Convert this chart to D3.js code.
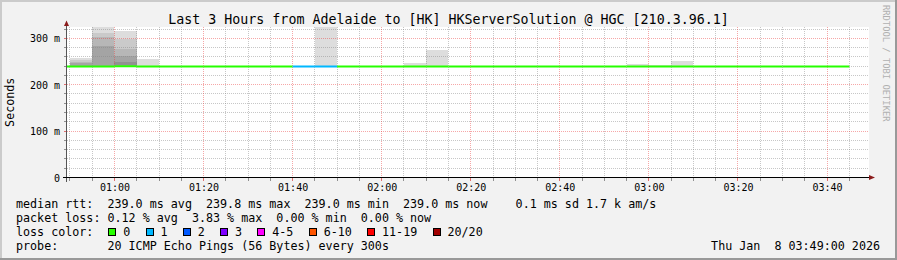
<!DOCTYPE html>
<html>
<head>
<meta charset="utf-8">
<script src="https://cdn.jsdelivr.net/npm/d3@7"></script>
<style>
  body { margin: 0; background: #fff; }
  text { font-family: "DejaVu Sans Mono", monospace; white-space: pre; }
</style>
</head>
<body>
<div id="chart"></div>
<script>
// smokeping "Last 3 Hours" graph, 5 minute steps

var width = 897, height = 260;

var binStarts = ["00:45","00:50","00:55","01:00","01:05","01:10","01:15","01:20","01:25","01:30","01:35","01:40",
                 "01:45","01:50","01:55","02:00","02:05","02:10","02:15","02:20","02:25","02:30","02:35","02:40",
                 "02:45","02:50","02:55","03:00","03:05","03:10","03:15","03:20","03:25","03:30","03:35","03:40"];

var medianRtt = [239.0,239.0,239.0,239.8,239.0,239.0,239.0,239.0,239.0,239.0,239.0,239.0,
                 239.0,239.0,239.0,239.0,239.0,239.0,239.0,239.0,239.0,239.0,239.0,239.0,
                 239.0,239.0,239.0,239.0,239.0,239.0,239.0,239.0,239.0,239.0,239.0,239.0];

var lossCount = [0,0,0,0,0,0,0,0,0,0,0,1,
                 1,0,0,0,0,0,0,0,0,0,0,0,
                 0,0,0,0,0,0,0,0,0,0,0,0];

// bins with visible smoke, 20 sorted pings each (ms)
var smokeBins = ["00:50","00:55","01:00","01:05","01:45","02:05","02:10","02:55","03:00","03:05"];
var smokePings = [
  [239,239,239,239,239,239,239,239,239,239,239,239,239,239,239,239,246,250,253,257],
  [239,239,239,239,239,239,239,239,239,239,239,239,239,239,239,239,283,302,311,325],
  [239,239,239,240,242.5,245,245,245,245,245,245,245,245,245,245,249,262,276,298,316],
  [239,239,239,239,239,239,239,239,239,239,239,239,239,239,239,239,239,239,239,255],
  [239,239,239,239,239,239,239,239,239,239,239,239,239,239,239,239,239,239,239,330],
  [239,239,239,239,239,239,239,239,239,239,239,239,239,239,239,239,239,239,239,247],
  [239,239,239,239,239,239,239,239,239,239,239,239,239,239,239,239,239,239,239,275],
  [239,239,239,239,239,239,239,239,239,239,239,239,239,239,239,239,239,239,239,245],
  [239,239,239,239,239,239,239,239,239,239,239,239,239,239,239,239,239,239,239,242],
  [239,239,239,239,239,239,239,239,239,239,239,239,239,239,239,239,239,239,239,251]
];

var yTickValues = [0, 100, 200, 300];
var lossLabels = ["0","1","2","3","4-5","6-10","11-19","20/20"];
var lossColors = ["#26ff00","#00b8ff","#0059ff","#7e00ff","#ff00ff","#ff5500","#ff0000","#a10000"];

var title = "Last 3 Hours from Adelaide to [HK] HKServerSolution @ HGC [210.3.96.1]";
var legendLines = [
  "median rtt:  239.0 ms avg  239.8 ms max  239.0 ms min  239.0 ms now    0.1 ms sd 1.7 k am/s",
  "packet loss: 0.12 % avg  3.83 % max  0.00 % min  0.00 % now",
  "loss color:",
  "probe:       20 ICMP Echo Pings (56 Bytes) every 300s"
];
var stamp = "Thu Jan  8 03:49:00 2026";

var parseTime = d3.timeParse("%H:%M");
var t0 = parseTime("00:49"), t1 = parseTime("03:49");
var step = 5; // minutes

var plotLeft = 66.5, plotRight = 869, plotTop = 27, plotBottom = 177.5;

var x = d3.scaleTime().domain([t0, t1]).range([65.5, 867.1]);
var y = d3.scaleLinear().domain([0, 300]).range([177.5, 38.3]);

var svg = d3.select('#chart').append('svg')
  .attr('width', width)
  .attr('height', height);

// background + 3d frame
svg.append('rect').attr('width', width).attr('height', height).attr('fill', '#f2f2f2');
svg.append('rect').attr('x', 0).attr('y', 0).attr('width', width).attr('height', 2).attr('fill', '#cbcbcb');
svg.append('rect').attr('x', 0).attr('y', 0).attr('width', 2).attr('height', height).attr('fill', '#cbcbcb');
svg.append('rect').attr('x', 0).attr('y', height-2).attr('width', width).attr('height', 2).attr('fill', '#999999');
svg.append('rect').attr('x', width-2).attr('y', 0).attr('width', 2).attr('height', height).attr('fill', '#999999');

// canvas
svg.append('rect')
  .attr('x', plotLeft).attr('y', plotTop)
  .attr('width', plotRight-plotLeft).attr('height', plotBottom-plotTop)
  .attr('fill', '#ffffff');

svg.append('clipPath').attr('id', 'plotclip')
  .append('rect')
  .attr('x', plotLeft).attr('y', plotTop)
  .attr('width', plotRight-plotLeft).attr('height', plotBottom-plotTop);

var plot = svg.append('g').attr('clip-path', 'url(#plotclip)');

// smoke: outer pairs light, inner pairs darker
var smoke = plot.append('g').attr('shape-rendering', 'crispEdges');
smokeBins.forEach(function(b, i) {
  var p = smokePings[i];
  var start = parseTime(b);
  var end = d3.timeMinute.offset(start, step);
  var half = p.length/2;
  for (var ibot = 1; ibot <= half; ibot++) {
    var lo = p[ibot-1], hi = p[p.length-ibot];
    if (hi <= lo) continue;
    var c = Math.floor(190/half*(half-ibot)) + 50;
    smoke.append('rect')
      .attr('x', x(start)).attr('width', x(end)-x(start))
      .attr('y', y(hi)).attr('height', y(lo)-y(hi))
      .attr('fill', d3.rgb(c, c, c));
  }
});

// grid
var grid = plot.append('g').attr('shape-rendering', 'crispEdges');
var minorT = d3.timeMinute.every(5).range(t0, t1);
var majorT = d3.timeMinute.every(20).range(t0, t1);
var minorY = d3.range(20, 340, 20);
var majorY = [100, 200, 300];

grid.selectAll('.vminor').data(minorT.filter(function(t){ return t.getMinutes() % 20 != 0; }))
  .enter().append('line')
  .attr('x1', function(d){ return Math.floor(x(d))+0.5; }).attr('x2', function(d){ return Math.floor(x(d))+0.5; })
  .attr('y1', plotTop).attr('y2', plotBottom)
  .attr('stroke', 'rgba(130,130,130,0.45)').attr('stroke-dasharray', '1,1');

grid.selectAll('.hminor').data(minorY.filter(function(v){ return v % 100 != 0; }))
  .enter().append('line')
  .attr('x1', plotLeft).attr('x2', plotRight)
  .attr('y1', function(d){ return Math.floor(y(d))+0.5; }).attr('y2', function(d){ return Math.floor(y(d))+0.5; })
  .attr('stroke', 'rgba(130,130,130,0.45)').attr('stroke-dasharray', '1,1');

grid.selectAll('.vmajor').data(majorT)
  .enter().append('line')
  .attr('x1', function(d){ return Math.floor(x(d))+0.5; }).attr('x2', function(d){ return Math.floor(x(d))+0.5; })
  .attr('y1', plotTop).attr('y2', plotBottom)
  .attr('stroke', 'rgba(235,60,60,0.45)').attr('stroke-dasharray', '1,1');

grid.selectAll('.hmajor').data(majorY)
  .enter().append('line')
  .attr('x1', plotLeft).attr('x2', plotRight)
  .attr('y1', function(d){ return Math.floor(y(d))+0.5; }).attr('y2', function(d){ return Math.floor(y(d))+0.5; })
  .attr('stroke', 'rgba(235,60,60,0.45)').attr('stroke-dasharray', '1,1');

// median rtt, coloured by loss
function lossIndex(n) {
  if (n <= 3) return n;
  if (n <= 5) return 4;
  if (n <= 10) return 5;
  if (n <= 19) return 6;
  return 7;
}
plot.append('g').selectAll('line').data(binStarts)
  .enter().append('line')
  .attr('x1', function(d){ return x(parseTime(d)); })
  .attr('x2', function(d){ return x(d3.timeMinute.offset(parseTime(d), step)); })
  .attr('y1', function(d, i){ return y(medianRtt[i]); })
  .attr('y2', function(d, i){ return y(medianRtt[i]); })
  .attr('stroke', function(d, i){ return lossColors[lossIndex(lossCount[i])]; })
  .attr('stroke-width', 2);

// axes
var xAxis = svg.append('g')
  .attr('transform', 'translate(0,' + plotBottom + ')')
  .call(d3.axisBottom(x).tickValues(majorT).tickFormat(d3.timeFormat('%H:%M')).tickSize(0));
xAxis.select('.domain').remove();
xAxis.selectAll('text').attr('y', 13.5).attr('dy', 0)
  .attr('font-size', '10px').attr('font-family', '"DejaVu Sans Mono"').attr('fill', '#000');

var yAxis = svg.append('g')
  .attr('transform', 'translate(' + plotLeft + ',0)')
  .call(d3.axisLeft(y).tickValues(yTickValues).tickFormat(function(d){ return d ? d + ' m' : '0'; }).tickSize(0));
yAxis.select('.domain').remove();
yAxis.selectAll('text').attr('x', -6.5).attr('dy', '0.36em')
  .attr('font-size', '10px').attr('font-family', '"DejaVu Sans Mono"').attr('fill', '#000');

var ticks = svg.append('g').attr('shape-rendering', 'crispEdges');
ticks.selectAll('.ty').data(minorY)
  .enter().append('line')
  .attr('x1', 63.5).attr('x2', plotLeft)
  .attr('y1', function(d){ return Math.floor(y(d))+0.5; }).attr('y2', function(d){ return Math.floor(y(d))+0.5; })
  .attr('stroke', function(d){ return d % 100 == 0 ? '#e07070' : '#909090'; });
ticks.selectAll('.tx').data(minorT)
  .enter().append('line')
  .attr('x1', function(d){ return Math.floor(x(d))+0.5; }).attr('x2', function(d){ return Math.floor(x(d))+0.5; })
  .attr('y1', plotBottom).attr('y2', plotBottom+3)
  .attr('stroke', function(d){ return d.getMinutes() % 20 == 0 ? '#e07070' : '#909090'; });

svg.append('line').attr('x1', plotLeft).attr('x2', plotLeft).attr('y1', 182).attr('y2', 25)
  .attr('stroke', '#555').attr('shape-rendering', 'crispEdges');
svg.append('line').attr('x1', 63).attr('x2', plotRight).attr('y1', plotBottom).attr('y2', plotBottom)
  .attr('stroke', '#000').attr('shape-rendering', 'crispEdges');
svg.append('path').attr('d', 'M64,26L69,26L66.5,20.5Z').attr('fill', '#8b1c1c');
svg.append('path').attr('d', 'M869,175L869,180L875,177.5Z').attr('fill', '#8b1c1c');

// texts
svg.append('text')
  .attr('x', 448.5).attr('y', 24)
  .attr('text-anchor', 'middle')
  .attr('font-size', '13.3px')
  .text(title);

svg.append('text')
  .attr('transform', 'translate(14,' + ((plotTop+plotBottom)/2) + ') rotate(-90)')
  .attr('text-anchor', 'middle')
  .attr('font-size', '11.7px')
  .text('Seconds');

svg.append('text')
  .attr('transform', 'translate(883,5) rotate(90)')
  .attr('font-size', '8.8px')
  .attr('fill', '#b0b0b0')
  .text('RRDTOOL / TOBI OETIKER');

svg.selectAll('.legend').data(legendLines)
  .enter().append('text')
  .attr('x', 16)
  .attr('y', function(d, i){ return 207.5 + i*14; })
  .attr('font-size', '11.7px')
  .text(function(d){ return d; });

var lx = 108.3;
lossLabels.forEach(function(l, i) {
  svg.append('rect')
    .attr('x', lx+0.5).attr('y', 228.5).attr('width', 7).attr('height', 7)
    .attr('fill', lossColors[i]).attr('stroke', '#000').attr('stroke-width', 1)
    .attr('shape-rendering', 'crispEdges');
  svg.append('text')
    .attr('x', lx + 15).attr('y', 235.5)
    .attr('font-size', '11.7px')
    .text(l);
  lx += 15 + l.length*7.05 + 15.2;
});

svg.append('text')
  .attr('x', 880).attr('y', 249.5)
  .attr('text-anchor', 'end')
  .attr('font-size', '11.7px')
  .text(stamp);
</script>
</body>
</html>
